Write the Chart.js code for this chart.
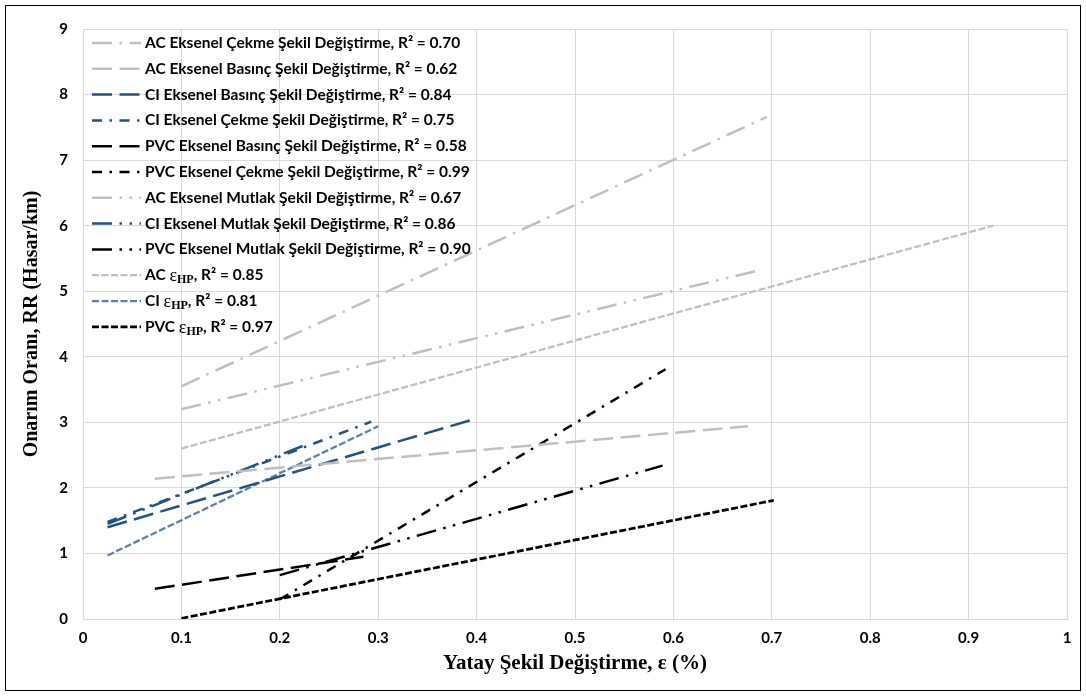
<!DOCTYPE html>
<html>
<head>
<meta charset="utf-8">
<script src="https://cdn.jsdelivr.net/npm/chart.js@4.4.0/dist/chart.umd.min.js"></script>
<style>
  html, body { margin: 0; padding: 0; background: #fff; }
  #wrap { position: relative; width: 1086px; height: 696px; }
  #frame { position: absolute; left: 5px; top: 5px; width: 1074px; height: 684px; border: 1px solid #000; pointer-events: none; }
</style>
</head>
<body>
<div id="wrap">
  <canvas id="rrChart" width="1086" height="696"></canvas>
  <div id="frame"></div>
</div>
<script>
// axis ticks
const xTicks = ['0', '0.1', '0.2', '0.3', '0.4', '0.5', '0.6', '0.7', '0.8', '0.9', '1'];
const yTicks = ['0', '1', '2', '3', '4', '5', '6', '7', '8', '9'];

// fitted trend lines, start and end of each fit
const acCekme   = [{x: 0.100, y: 3.55}, {x: 0.695, y: 7.66}];
const acBasinc  = [{x: 0.073, y: 2.14}, {x: 0.676, y: 2.94}];
const ciBasinc  = [{x: 0.025, y: 1.40}, {x: 0.400, y: 3.06}];
const ciCekme   = [{x: 0.025, y: 1.48}, {x: 0.293, y: 3.01}];
const pvcBasinc = [{x: 0.073, y: 0.46}, {x: 0.285, y: 0.95}];
const pvcCekme  = [{x: 0.200, y: 0.30}, {x: 0.592, y: 3.81}];
const acMutlak  = [{x: 0.100, y: 3.20}, {x: 0.690, y: 5.33}];
const ciMutlak  = [{x: 0.025, y: 1.45}, {x: 0.225, y: 2.65}];
const pvcMutlak = [{x: 0.200, y: 0.67}, {x: 0.589, y: 2.34}];
const acHP      = [{x: 0.100, y: 2.60}, {x: 0.925, y: 6.00}];
const ciHP      = [{x: 0.025, y: 0.97}, {x: 0.300, y: 2.94}];
const pvcHP     = [{x: 0.100, y: 0.01}, {x: 0.702, y: 1.81}];

const seriesLabels = [
  'AC Eksenel Çekme Şekil Değiştirme, R² = 0.70',
  'AC Eksenel Basınç Şekil Değiştirme, R² = 0.62',
  'CI Eksenel Basınç Şekil Değiştirme, R² = 0.84',
  'CI Eksenel Çekme Şekil Değiştirme, R² = 0.75',
  'PVC Eksenel Basınç Şekil Değiştirme, R² = 0.58',
  'PVC Eksenel Çekme Şekil Değiştirme, R² = 0.99',
  'AC Eksenel Mutlak Şekil Değiştirme, R² = 0.67',
  'CI Eksenel Mutlak Şekil Değiştirme, R² = 0.86',
  'PVC Eksenel Mutlak Şekil Değiştirme, R² = 0.90',
  'AC εHP, R² = 0.85',
  'CI εHP, R² = 0.81',
  'PVC εHP, R² = 0.97'
];

// colours and dash styles (office-like long dash / dash-dot patterns)
const AC = '#bfbfbf', CI = '#24527f', PVC = '#000000', CI_LIGHT = '#5b80aa';
const LG_DASH = [20, 7.5];
const LG_DASH_DOT = [20, 7.5, 2.5, 7.5];
const LG_DASH_DOT_DOT = [20, 7.5, 2.5, 7.5, 2.5, 7.5];
const DASH_DOT = [10, 7.5, 2.5, 7.5];
const SYS_DASH = [7, 2.5];

function series(i, data, color, dash, width) {
  return {
    label: seriesLabels[i],
    data: data,
    showLine: true,
    pointRadius: 0,
    borderColor: color,
    backgroundColor: color,
    borderWidth: width || 2.5,
    borderDash: dash,
    borderCapStyle: 'butt',
    fill: false
  };
}

// legend drawn inside the plot, line sample + text
const lineLegend = {
  id: 'lineLegend',
  afterDraw(chart) {
    const ctx = chart.ctx;
    const area = chart.chartArea;
    const x0 = area.left + 9, x1 = area.left + 58, tx = area.left + 62;
    chart.data.datasets.forEach((ds, i) => {
      const y = area.top + 14 + i * 25.8;
      ctx.save();
      ctx.strokeStyle = ds.borderColor;
      ctx.lineWidth = ds.borderWidth;
      ctx.lineCap = 'butt';
      ctx.setLineDash(ds.borderDash);
      ctx.beginPath();
      ctx.moveTo(x0, y);
      ctx.lineTo(x1, y);
      ctx.stroke();
      ctx.setLineDash([]);

      ctx.fillStyle = '#000';
      ctx.textBaseline = 'middle';
      ctx.textAlign = 'left';
      const body = 'bold 15.5px Lato, "Open Sans", sans-serif';
      const parts = ds.label.split('εHP');
      let x = tx;
      ctx.font = body;
      ctx.fillText(parts[0], x, y);
      x += ctx.measureText(parts[0]).width;
      if (parts.length > 1) {
        ctx.font = '18px "Liberation Serif", serif';
        ctx.fillText('ε', x, y + 1);
        x += ctx.measureText('ε').width;
        ctx.font = 'bold 12px "Liberation Serif", serif';
        ctx.fillText('HP', x, y + 5);
        x += ctx.measureText('HP').width;
        ctx.font = body;
        ctx.fillText(parts[1], x, y);
      }
      ctx.restore();
    });
  }
};

const ctx = document.getElementById('rrChart').getContext('2d');
const chart = new Chart(ctx, {
  type: 'scatter',
  data: {
    datasets: [
      series(0, acCekme, AC, LG_DASH_DOT),
      series(1, acBasinc, AC, LG_DASH),
      series(2, ciBasinc, CI, LG_DASH),
      series(3, ciCekme, CI, DASH_DOT),
      series(4, pvcBasinc, PVC, LG_DASH),
      series(5, pvcCekme, PVC, DASH_DOT),
      series(6, acMutlak, AC, LG_DASH_DOT_DOT),
      series(7, ciMutlak, CI, LG_DASH_DOT_DOT),
      series(8, pvcMutlak, PVC, LG_DASH_DOT_DOT),
      series(9, acHP, AC, SYS_DASH, 2.25),
      series(10, ciHP, CI_LIGHT, SYS_DASH, 2.25),
      series(11, pvcHP, PVC, SYS_DASH, 2.75)
    ]
  },
  options: {
    responsive: false,
    animation: false,
    layout: { padding: { top: 29, right: 19, left: 0, bottom: 0 } },
    plugins: {
      legend: { display: false },
      tooltip: { enabled: false }
    },
    scales: {
      x: {
        type: 'linear',
        min: 0,
        max: 1,
        afterFit: (s) => { s.height = 77; },
        afterBuildTicks: (s) => { s.ticks = xTicks.map((t) => ({ value: parseFloat(t) })); },
        ticks: {
          padding: 10,
          color: '#000',
          font: { family: 'Lato', weight: 'bold', size: 15 },
          callback: (v, i) => xTicks[i]
        },
        grid: { color: '#d9d9d9', lineWidth: 1, drawTicks: false },
        border: { color: '#d9d9d9' },
        title: {
          display: true,
          text: 'Yatay Şekil Değiştirme, ε (%)',
          color: '#000',
          font: { family: 'Liberation Serif', weight: 'bold', size: 21 },
          padding: { top: 0, bottom: 20 }
        }
      },
      y: {
        type: 'linear',
        min: 0,
        max: 9,
        afterFit: (s) => { s.width = 83; },
        afterBuildTicks: (s) => { s.ticks = yTicks.map((t) => ({ value: parseFloat(t) })); },
        ticks: {
          padding: 15,
          color: '#000',
          font: { family: 'Lato', weight: 'bold', size: 15 },
          callback: (v, i) => yTicks[i]
        },
        grid: { color: '#d9d9d9', lineWidth: 1, drawTicks: false },
        border: { color: '#d9d9d9' },
        title: {
          display: true,
          text: 'Onarım Oranı, RR (Hasar/km)',
          color: '#000',
          font: { family: 'Liberation Serif', weight: 'bold', size: 20 },
          padding: { top: 20, bottom: 0 }
        }
      }
    }
  },
  plugins: [lineLegend]
});
</script>
</body>
</html>
